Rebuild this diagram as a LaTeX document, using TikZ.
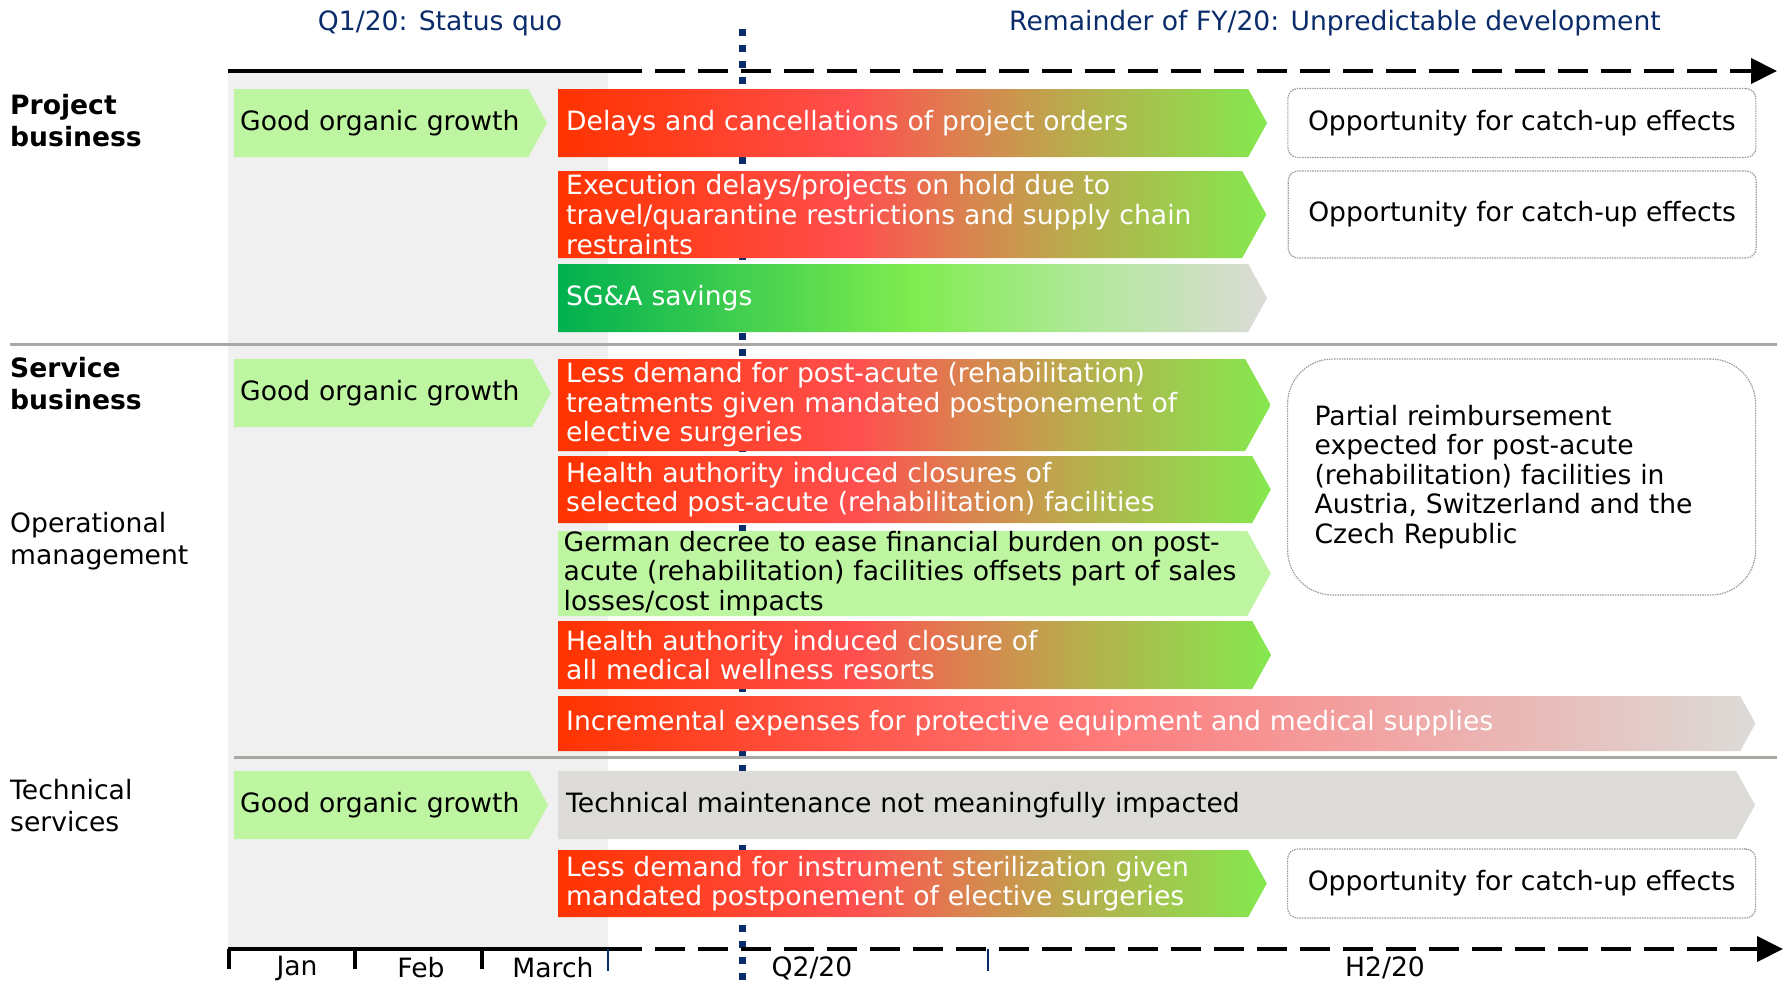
\documentclass[tikz,border=0pt]{standalone}
\usepackage{fontspec}
\setmainfont{DejaVu Sans}
\usetikzlibrary{shapes.symbols, arrows.meta, positioning}

\definecolor{QNavy}{HTML}{0B2C6B}
\definecolor{PaleGreen}{HTML}{BDF5A0}
\definecolor{PaleGray}{HTML}{F0F0F0}
\definecolor{StoneGray}{HTML}{DCDBD7}
\definecolor{RuleGray}{HTML}{ABA8A3}

\pgfdeclarehorizontalshading{RedToGreen}{100bp}{%
  rgb(0bp)=(1,0.2,0); rgb(25bp)=(1,0.2,0); rgb(46bp)=(1,0.31,0.31);
  rgb(54bp)=(0.85,0.52,0.31); rgb(62bp)=(0.71,0.69,0.30);
  rgb(75bp)=(0.52,0.91,0.31); rgb(100bp)=(0.52,0.91,0.31)}
\pgfdeclarehorizontalshading{GreenToGray}{100bp}{%
  rgb(0bp)=(0,0.69,0.31); rgb(25bp)=(0,0.69,0.31); rgb(50bp)=(0.5,0.925,0.31);
  rgb(62bp)=(0.69,0.91,0.6); rgb(75bp)=(0.863,0.859,0.843);
  rgb(100bp)=(0.863,0.859,0.843)}
\pgfdeclarehorizontalshading{RedToGray}{100bp}{%
  rgb(0bp)=(1,0.2,0); rgb(25bp)=(1,0.2,0); rgb(35bp)=(1,0.31,0.25);
  rgb(47bp)=(1,0.47,0.47); rgb(57bp)=(0.957,0.612,0.612);
  rgb(75bp)=(0.863,0.859,0.843); rgb(100bp)=(0.863,0.859,0.843)}

\begin{document}
\begin{tikzpicture}[x=1pt, y=-1pt,
  every node/.style={font=\fontsize{26.6}{29.6}\selectfont},
  ChevStyle/.style={shape=signal, signal to=east, signal from=nowhere,
    signal pointer angle=122, anchor=west, align=left,
    inner xsep=8pt, inner ysep=0pt, text=white},
  ShadeStyle/.style={ChevStyle, shade, shading=#1},
  GrowStyle/.style={ChevStyle, fill=PaleGreen, text=black, inner xsep=6pt},
  HopeStyle/.style={draw=gray!80, line width=1.2pt, dash pattern=on 1.5pt off 1pt,
    rounded corners=10pt, minimum width=468pt, anchor=west},
  RowStyle/.style={anchor=west, align=left, inner sep=0pt,
    font=\fontsize{26.6}{32}\selectfont},
  AxisStyle/.style={line width=4pt},
  RuleStyle/.style={draw=RuleGray, line width=3pt}]
  \useasboundingbox (0,0) rectangle (1785,983);
  \fill[PaleGray] (228,71) rectangle (608,949);      % Q1 shaded band
  \draw[QNavy, line width=7pt, dash pattern=on 7pt off 9pt] (742,29) -- (742,983);
  % time axes
  \coordinate (a0) at (228,71);  \coordinate (a1) at (612,71);  \coordinate (a2) at (1777,71);
  \coordinate (b0) at (228,949); \coordinate (b1) at (612,949); \coordinate (b2) at (1783,949);
  \draw[AxisStyle] (a0) -- (a1);
  \draw[AxisStyle, dash pattern=on 30pt off 13pt, -{Triangle[length=26pt,width=25pt]}] (a1) -- (a2);
  \draw[AxisStyle] (b0) -- (b1);
  \draw[AxisStyle, dash pattern=on 30pt off 13pt, -{Triangle[length=26pt,width=25pt]}] (b1) -- (b2);
  \draw[line width=3.5pt] (229,949) -- (229,969) (355,949) -- (355,969) (482,949) -- (482,969);
  \draw[QNavy, line width=2.5pt] (608,949) -- (608,971) (988,949) -- (988,971);
  \draw[RuleStyle] (10,344.5) -- (1777,344.5);
  \draw[RuleStyle] (234,757) -- (1777,757);
  % headings
  \node[text=QNavy] (h0) at (440,23) {Q1/20: Status quo};
  \node[text=QNavy] (h1) at (1335,23) {Remainder of FY/20: Unpredictable development};
  \node[RowStyle, font=\fontsize{26.6}{32}\selectfont\bfseries] (r0) at (10,121) {Project\\business};
  \node[RowStyle, font=\fontsize{26.6}{32}\selectfont\bfseries] (r1) at (10,384) {Service\\business};
  \node[RowStyle] (r2) at (10,541) {Operational\\management};
  \node[RowStyle] (r3) at (10,806) {Technical\\services};
  % project business
  \node[GrowStyle, text width=282pt, minimum height=68pt] (g0) at (234,123) {Good organic growth};
  \node[ShadeStyle=RedToGreen, text width=674pt, minimum height=68pt] (p0) at (558,123)
    {Delays and cancellations of project orders};
  \node[ShadeStyle=RedToGreen, text width=668pt, minimum height=87pt] (p1) at (558,214.5)
    {Execution delays/projects on hold due to\\travel/quarantine restrictions and supply chain\\restraints};
  \node[ShadeStyle=GreenToGray, text width=674pt, minimum height=68pt] (p2) at (558,298) {SG\&A savings};
  \node[HopeStyle, minimum height=69pt, right=20pt of p0] (o0) {Opportunity for catch-up effects};
  \node[HopeStyle, minimum height=87pt, right=21pt of p1] (o1) {Opportunity for catch-up effects};
  % service business
  \node[GrowStyle, text width=286pt, minimum height=68pt] (g1) at (234,393) {Good organic growth};
  \node[ShadeStyle=RedToGreen, text width=671pt, minimum height=92pt] (s0) at (558,405)
    {Less demand for post-acute (rehabilitation)\\treatments given mandated postponement of\\elective surgeries};
  \node[ShadeStyle=RedToGreen, text width=678pt, minimum height=67pt] (s1) at (558,489.5)
    {Health authority induced closures of\\selected post-acute (rehabilitation) facilities};
  \node[GrowStyle, inner xsep=5.5pt, text width=678pt, minimum height=85pt] (s2) at (558,573.5)
    {German decree to ease financial burden on post-\\acute (rehabilitation) facilities offsets part of sales\\losses/cost impacts};
  \node[ShadeStyle=RedToGreen, text width=678pt, minimum height=68pt] (s3) at (558,655)
    {Health authority induced closure of\\all medical wellness resorts};
  \node[ShadeStyle=RedToGray, text width=1166pt, minimum height=55pt] (s4) at (558,723.5)
    {Incremental expenses for protective equipment and medical supplies};
  \node[HopeStyle, rounded corners=45pt, minimum height=236pt, text width=414pt, align=left] (o2)
    at (1287,477) {Partial reimbursement\\expected for post-acute\\(rehabilitation) facilities in\\Austria, Switzerland and the\\Czech Republic};
  % technical services
  \node[GrowStyle, text width=283pt, minimum height=68pt] (g2) at (234,805) {Good organic growth};
  \node[ChevStyle, fill=StoneGray, text=black, text width=1162pt, minimum height=68pt] (t0) at (558,805)
    {Technical maintenance not meaningfully impacted};
  \node[ShadeStyle=RedToGreen, text width=674pt, minimum height=67pt] (t1) at (558,883.5)
    {Less demand for instrument sterilization given\\mandated postponement of elective surgeries};
  \node[HopeStyle, minimum height=69pt, right=20pt of t1] (o3) {Opportunity for catch-up effects};
  % months
  \node (m0) at (297,968) {Jan};
  \node (m1) at (421,968) {Feb};
  \node (m2) at (553,968) {March};
  \node (m3) at (812,968) {Q2/20};
  \node (m4) at (1385,968) {H2/20};
\end{tikzpicture}
\end{document}
